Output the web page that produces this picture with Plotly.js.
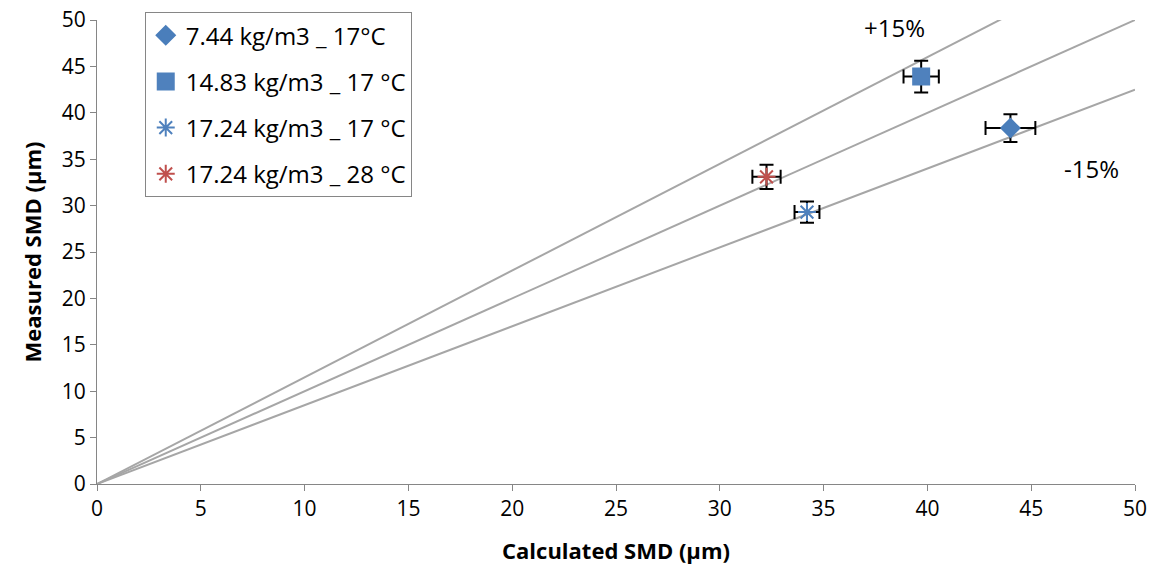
<!DOCTYPE html>
<html><head><meta charset="utf-8">
<script src="https://cdn.plot.ly/plotly-3.0.1.min.js"></script>
<style>body{margin:0;background:#fff}#c{width:1156px;height:574px}</style>
</head><body><div id="c"></div>
<script>
const seriesNames = ["7.44 kg/m3 _ 17°C", "14.83 kg/m3 _ 17 °C", "17.24 kg/m3 _ 17 °C", "17.24 kg/m3 _ 28 °C"];
const calcSMD = [44.0, 39.7, 34.2, 32.25];
const measSMD = [38.35, 43.9, 29.3, 33.1];
const calcErr = [1.2, 0.85, 0.6, 0.68];
const measErr = [1.5, 1.7, 1.15, 1.3];
const refSlopes = [1.15, 1.0, 0.85];
const refLabels = ["+15%", "-15%"];
const xTicks = [0,5,10,15,20,25,30,35,40,45,50];

const symbols = ["diamond", "square", "asterisk-open", "asterisk-open"];
const colors = ["#4a7ebb", "#4f81bd", "#4f81bd", "#c0504d"];
const sizes = [14, 16, 15, 15];

const traces = [];
refSlopes.forEach(s => {
  traces.push({x: [0, 50], y: [0, 50 * s], mode: "lines", line: {color: "#a6a6a6", width: 2}, showlegend: false, hoverinfo: "skip"});
});
seriesNames.forEach((n, i) => {
  traces.push({
    x: [calcSMD[i]], y: [measSMD[i]], name: n, mode: "markers", legendgroup: "g" + i,
    marker: {symbol: symbols[i], color: colors[i], size: sizes[i], line: {color: colors[i], width: 2}},
    error_x: {type: "data", array: [calcErr[i]], color: "#000", thickness: 2, width: 7},
    error_y: {type: "data", array: [measErr[i]], color: "#000", thickness: 2, width: 7}
  });
});

const fam = "Open Sans, Liberation Sans, sans-serif";
const layout = {
  width: 1156, height: 574,
  margin: {l: 97, r: 21, t: 20, b: 90},
  paper_bgcolor: "#fff", plot_bgcolor: "#fff",
  showlegend: true,
  font: {family: fam, color: "#000", size: 21},
  xaxis: {range: [0, 50], tickvals: xTicks, showgrid: false, zeroline: false, showline: true, linecolor: "#868686", linewidth: 1,
    ticks: "outside", tickcolor: "#868686", ticklen: 6, tickfont: {size: 21, family: fam, color: "#000"},
    title: {text: "<b>Calculated SMD (µm)</b>", font: {size: 22, family: fam}, standoff: 22}},
  yaxis: {range: [0, 50], dtick: 5, showgrid: false, zeroline: false, showline: true, linecolor: "#868686", linewidth: 1,
    ticks: "outside", tickcolor: "#868686", ticklen: 6, tickfont: {size: 21, family: fam, color: "#000"},
    title: {text: "<b>Measured SMD (µm)</b>", font: {size: 22, family: fam}, standoff: 14}},
  legend: {x: 0.046, y: 1.017, xanchor: "left", yanchor: "top", bordercolor: "#868686", borderwidth: 1, bgcolor: "#fff",
    font: {size: 24, family: fam}, tracegroupgap: 12, traceorder: "grouped", itemwidth: 30},
  annotations: [
    {x: 38.4, y: 49.2, xref: "x", yref: "y", text: refLabels[0], showarrow: false, font: {size: 24}},
    {x: 47.9, y: 34.0, xref: "x", yref: "y", text: refLabels[1], showarrow: false, font: {size: 24}}
  ]
};
Plotly.newPlot("c", traces, layout, {staticPlot: true});
</script></body></html>
